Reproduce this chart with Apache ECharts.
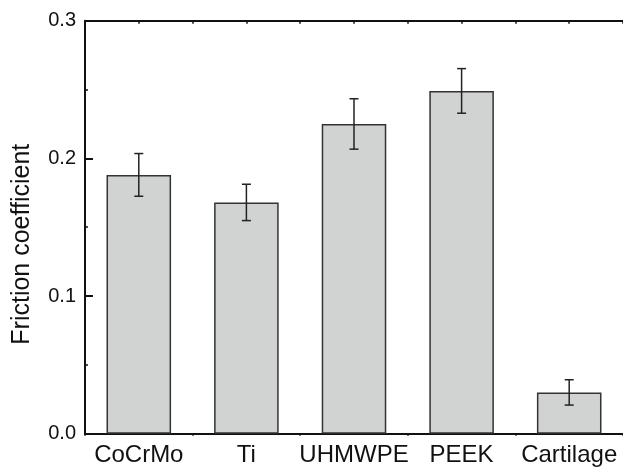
<!DOCTYPE html>
<html>
<head>
<meta charset="utf-8">
<script src="https://cdn.jsdelivr.net/npm/echarts@6/dist/echarts.min.js"></script>
<style>
  html, body { margin: 0; padding: 0; background: #fff; }
  #chart { width: 623px; height: 469px; }
</style>
</head>
<body>
<div id="chart"></div>
<script>
// Friction coefficient per bearing material (mean with standard deviation)
const materials = ['CoCrMo', 'Ti', 'UHMWPE', 'PEEK', 'Cartilage'];
const frictionMean = [0.188, 0.168, 0.225, 0.249, 0.030];
const frictionSd = [0.0155, 0.0132, 0.0183, 0.0162, 0.0092];
const yTicks = [0, 0.1, 0.2, 0.3];

const FONT = '"Liberation Sans", Arial, Helvetica, sans-serif';
const AXIS_COLOR = '#111';

const errorData = materials.map((m, i) => [i, frictionMean[i] - frictionSd[i], frictionMean[i] + frictionSd[i]]);

const chart = echarts.init(document.getElementById('chart'), null, { renderer: 'canvas' });

const hiddenLabel = { show: false };

chart.setOption({
  animation: false,
  backgroundColor: '#fff',
  grid: { left: 85, top: 20.7, right: -4.5, bottom: 35.3, containLabel: false },
  xAxis: [
    {
      type: 'category',
      data: materials,
      position: 'bottom',
      boundaryGap: true,
      axisLine: { show: true, lineStyle: { color: AXIS_COLOR, width: 2 } },
      axisTick: { show: true, alignWithLabel: true, inside: true, length: 8, lineStyle: { color: AXIS_COLOR, width: 2 } },
      axisLabel: { color: '#111', fontSize: 24, fontFamily: FONT, margin: 10, interval: 0 },
      splitLine: { show: false }
    },
    {
      // short marks at the category boundaries on the bottom edge
      type: 'category',
      data: materials,
      position: 'bottom',
      gridIndex: 0,
      boundaryGap: true,
      axisLine: { show: false },
      axisTick: { show: true, inside: false, length: 2, lineStyle: { color: AXIS_COLOR, width: 1.5 } },
      axisLabel: hiddenLabel,
      splitLine: { show: false }
    },
    {
      // top frame with small inward ticks at centres
      type: 'category',
      data: materials,
      position: 'top',
      boundaryGap: true,
      axisLine: { show: true, lineStyle: { color: AXIS_COLOR, width: 2 } },
      axisTick: { show: true, alignWithLabel: true, inside: true, length: 3, lineStyle: { color: AXIS_COLOR, width: 1.5 } },
      axisLabel: hiddenLabel,
      splitLine: { show: false }
    },
    {
      // top frame ticks at category boundaries
      type: 'category',
      data: materials,
      position: 'top',
      boundaryGap: true,
      axisLine: { show: false },
      axisTick: { show: true, inside: true, length: 3, lineStyle: { color: AXIS_COLOR, width: 1.5 } },
      axisLabel: hiddenLabel,
      splitLine: { show: false }
    }
  ],
  yAxis: {
    type: 'value',
    min: yTicks[0],
    max: yTicks[yTicks.length - 1],
    interval: 0.1,
    name: 'Friction coefficient',
    nameLocation: 'middle',
    nameGap: 50,
    nameTextStyle: { color: '#111', fontSize: 25, fontFamily: FONT, padding: [0, 34, 0, 0] },
    axisLine: { show: true, lineStyle: { color: AXIS_COLOR, width: 2 } },
    axisTick: { show: true, inside: true, length: 8, lineStyle: { color: AXIS_COLOR, width: 2 } },
    minorTick: { show: true, splitNumber: 2, length: 3, lineStyle: { color: AXIS_COLOR, width: 1.5 } },
    axisLabel: {
      color: '#111', fontSize: 20, fontFamily: FONT, margin: 9,
      formatter: v => v.toFixed(1)
    },
    splitLine: { show: false },
    minorSplitLine: { show: false }
  },
  series: [
    {
      type: 'bar',
      xAxisIndex: 0,
      data: frictionMean,
      barWidth: '60%',
      itemStyle: { color: '#d1d3d2', borderColor: '#333', borderWidth: 1.5 },
      z: 2
    },
    {
      type: 'custom',
      xAxisIndex: 0,
      data: errorData,
      z: 3,
      renderItem: function (params, api) {
        const x = api.value(0);
        const lo = api.coord([x, api.value(1)]);
        const hi = api.coord([x, api.value(2)]);
        const half = 4.5;
        const style = { stroke: '#222', lineWidth: 1.5 };
        return {
          type: 'group',
          children: [
            { type: 'line', shape: { x1: hi[0], y1: hi[1], x2: lo[0], y2: lo[1] }, style: style },
            { type: 'line', shape: { x1: hi[0] - half, y1: hi[1], x2: hi[0] + half, y2: hi[1] }, style: style },
            { type: 'line', shape: { x1: lo[0] - half, y1: lo[1], x2: lo[0] + half, y2: lo[1] }, style: style }
          ]
        };
      }
    }
  ]
});
</script>
</body>
</html>
